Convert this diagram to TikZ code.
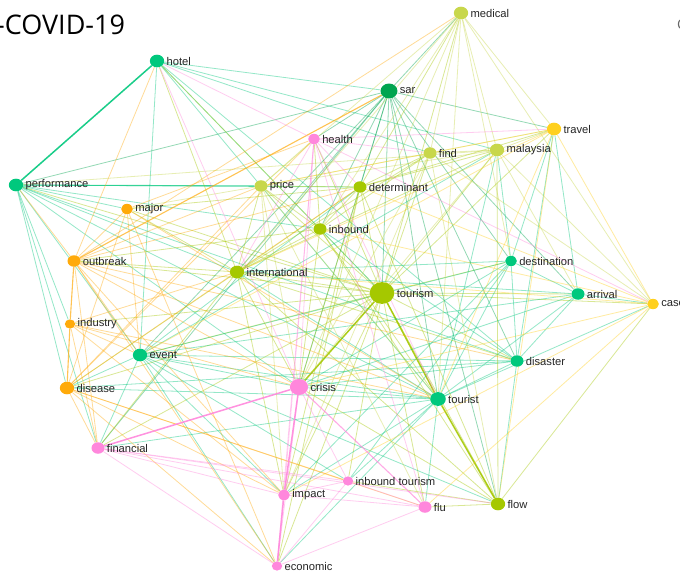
\documentclass[tikz,border=0pt]{standalone}
\usepackage{fontspec}
\usepackage{tikz}
\usetikzlibrary{shapes.geometric}
\newfontfamily\lblfont{Liberation Sans}
\newfontfamily\ttlfont{Open Sans}

\definecolor{kgreen}{RGB}{0,200,125}
\definecolor{kdark}{RGB}{0,165,80}
\definecolor{klime}{RGB}{165,200,0}
\definecolor{kpale}{RGB}{200,215,75}
\definecolor{kyellow}{RGB}{255,208,30}
\definecolor{korange}{RGB}{255,170,10}
\definecolor{kpink}{RGB}{255,135,220}

\pgfdeclarelayer{bg}
\pgfsetlayers{bg,main}

\tikzset{
	kw/.style={ellipse, inner sep=0pt, minimum height={1.15*#1}, minimum width={1.3*#1}},
	lbl/.style={font=\lblfont\fontsize{11.2}{13}\selectfont, text=black!85, inner sep=1pt, label distance=1pt},
	eg/.style={draw=#1, line width=.8pt, draw opacity=.42},
	hv/.style={line width=1.5pt, draw opacity=.9},
	md/.style={line width=1.1pt, draw opacity=.7},
}

\begin{document}
\begin{tikzpicture}[x=1pt,y=-1pt]
		\begin{pgfonlayer}{bg}
		\fill[white] (0,0) rectangle (680,572);
		\end{pgfonlayer}
		\useasboundingbox (0,0) rectangle (680,572);

		% titles
		\node[font=\ttlfont\fontsize{27}{30}\selectfont, anchor=base west, inner sep=0pt] (title) at (-4,35) {-COVID-19};
		\node[font=\ttlfont\fontsize{14}{16}\selectfont, anchor=base west, inner sep=0pt, text=black!60] (cut) at (677,30) {C};

		% keywords
		\node[kw=11, fill=kgreen,  label={[lbl]right:hotel}]           (hotel)    at (157,61)  {};
		\node[kw=13, fill=kdark,   label={[lbl]right:sar}]             (sar)      at (389,91)  {};
		\node[kw=11, fill=kpale,   label={[lbl]right:medical}]         (medical)  at (461,13)  {};
		\node[kw=11, fill=kyellow, label={[lbl]right:travel}]          (travel)   at (554,129) {};
		\node[kw=9,  fill=kpink,   label={[lbl]right:health}]          (health)   at (314,139) {};
		\node[kw=10, fill=kpale,   label={[lbl]right:find}]            (find)     at (430,153) {};
		\node[kw=11, fill=kpale,   label={[lbl]right:malaysia}]        (malaysia) at (497,150) {};
		\node[kw=11, fill=kgreen,  label={[lbl]right:performance}]     (perf)     at (16,185)  {};
		\node[kw=10, fill=kpale,   label={[lbl]right:price}]           (price)    at (261,186) {};
		\node[kw=10, fill=klime,   label={[lbl]right:determinant}]     (determ)   at (360,187) {};
		\node[kw=9,  fill=korange, label={[lbl]right:major}]           (major)    at (127,209) {};
		\node[kw=10, fill=klime,   label={[lbl]right:inbound}]         (inbound)  at (320,229) {};
		\node[kw=10, fill=korange, label={[lbl]right:outbreak}]        (outbreak) at (74,261)  {};
		\node[kw=11, fill=klime,   label={[lbl]right:international}]   (intl)     at (237,272) {};
		\node[kw=19, fill=klime,   label={[lbl]right:tourism}]         (tourism)  at (382,293) {};
		\node[kw=9,  fill=kgreen,  label={[lbl]right:destination}]     (dest)     at (511,261) {};
		\node[kw=10, fill=kgreen,  label={[lbl]right:arrival}]         (arrival)  at (578,294) {};
		\node[kw=9,  fill=kyellow, label={[lbl]right:case}]            (case)     at (653,304) {};
		\node[kw=8,  fill=korange, label={[lbl]right:industry}]        (industry) at (70,324)  {};
		\node[kw=11, fill=kgreen,  label={[lbl]right:event}]           (event)    at (140,355) {};
		\node[kw=10, fill=kgreen,  label={[lbl]right:disaster}]        (disaster) at (517,361) {};
		\node[kw=11, fill=korange, label={[lbl]right:disease}]         (disease)  at (67,388)  {};
		\node[kw=14, fill=kpink,   label={[lbl]right:crisis}]          (crisis)   at (299,387) {};
		\node[kw=12, fill=kgreen,  label={[lbl]right:tourist}]         (tourist)  at (438,399) {};
		\node[kw=10, fill=kpink,   label={[lbl]right:financial}]       (financial) at (98,448) {};
		\node[kw=9,  fill=kpink,   label={[lbl]right:impact}]          (impact)   at (284,495) {};
		\node[kw=8,  fill=kpink,   label={[lbl]right:inbound tourism}] (inbtour)  at (348,481) {};
		\node[kw=10, fill=kpink,   label={[lbl]right:flu}]             (flu)      at (425,507) {};
		\node[kw=11, fill=klime,   label={[lbl]right:flow}]            (flow)     at (498,504) {};
		\node[kw=8,  fill=kpink,   label={[lbl]right:economic}]        (economic) at (277,566) {};

		% links
		\begin{pgfonlayer}{bg}
		\path[eg=klime] (tourism)
			edge (medical) edge (travel) edge (health) edge (find) edge (malaysia)
			edge (perf) edge (price) edge (determ) edge (major) edge (inbound)
			edge (outbreak) edge (intl) edge (dest) edge (arrival) edge (case)
			edge (industry) edge (event) edge (disaster) edge (disease) edge (financial)
			edge (impact) edge (inbtour) edge (flu) edge (flow) edge (economic)
			edge[hv] (crisis) edge[hv] (tourist)
		;
		\path[eg=kgreen] (hotel)
			edge[hv] (perf) edge (sar) edge (find) edge (malaysia) edge (tourism)
			edge (event) edge (tourist) edge (disaster)
		;
		\path[eg=kdark] (sar)
			edge (tourism) edge (medical) edge (travel) edge (health) edge (determ)
			edge (inbound) edge (intl) edge (event) edge (crisis) edge (tourist)
			edge (disaster) edge (arrival) edge (dest) edge (perf) edge (financial)
			edge (flow)
		;
		\path[eg=kgreen] (perf)
			edge[md] (price) edge (major) edge (industry) edge (event) edge (determ)
			edge (crisis) edge (tourist) edge (disaster) edge (disease) edge (financial)
			edge (inbound) edge (intl)
		;
		\path[eg=kgreen] (event)
			edge (disease) edge (crisis) edge (disaster) edge (tourist) edge (flow)
			edge (dest) edge (arrival) edge (financial) edge (impact) edge (economic)
			edge (malaysia) edge (determ) edge (inbtour)
		;
		\path[eg=kgreen] (dest)
			edge (malaysia) edge (travel) edge (arrival) edge (tourist) edge (disaster)
			edge (crisis) edge (intl) edge (inbtour) edge (impact)
		;
		\path[eg=kgreen] (arrival)
			edge (tourist) edge (disaster) edge (case) edge (travel) edge (crisis)
			edge (intl)
		;
		\path[eg=kgreen] (disaster)
			edge (tourist) edge (crisis) edge (flow) edge (travel) edge (disease)
			edge (inbound)
		;
		\path[eg=kgreen] (tourist)
			edge (crisis) edge (disease) edge (economic) edge (impact) edge (inbtour)
			edge (flu) edge (malaysia) edge (intl) edge (financial) edge (case)
		;
		\path[eg=klime] (determ)
			edge (price) edge (find) edge (malaysia) edge (medical) edge (inbound)
			edge (intl) edge (major) edge (crisis) edge (flow) edge (impact)
			edge (economic) edge (travel)
		;
		\path[eg=klime] (inbound)
			edge (price) edge (health) edge (find) edge (intl) edge (crisis)
			edge (tourist) edge (flow) edge (hotel) edge (outbreak)
		;
		\path[eg=klime] (intl)
			edge (hotel) edge (price) edge (major) edge (malaysia) edge (find)
			edge (crisis) edge (disaster) edge (flow) edge (disease) edge (financial)
			edge (impact) edge (outbreak)
		;
		\path[eg=klime] (flow)
			edge[hv] (tourist) edge (case) edge (crisis) edge (inbtour) edge (flu)
			edge (malaysia)
		;
		\path[eg=kpale] (price)
			edge (find) edge (malaysia) edge (medical) edge (crisis) edge (tourist)
			edge (major) edge (health) edge (impact) edge (flu)
		;
		\path[eg=kpale] (find)
			edge (malaysia) edge (travel) edge (medical) edge (crisis) edge (impact)
			edge (flow) edge (case)
		;
		\path[eg=kpale] (malaysia)
			edge (medical) edge (travel) edge (case) edge (crisis) edge (arrival)
			edge (perf)
		;
		\path[eg=kpale] (medical)
			edge (travel) edge (inbound) edge (intl) edge (tourist) edge (dest)
			edge (crisis) edge (case)
		;
		\path[eg=kyellow] (travel)
			edge (case) edge (flow) edge (event) edge (intl) edge (price)
			edge (tourist)
		;
		\path[eg=kyellow] (case)
			edge (inbound) edge (determ) edge (intl) edge (crisis) edge (impact)
			edge (flu)
		;
		\path[eg=korange] (outbreak)
			edge[md] (sar) edge (hotel) edge (perf) edge (major) edge[md] (industry)
			edge (event) edge (crisis) edge (tourist) edge (determ) edge (price)
			edge (impact) edge (economic) edge (financial) edge (disaster) edge (medical)
		;
		\path[eg=korange] (major)
			edge (tourist) edge (disease) edge (economic) edge (health) edge (event)
		;
		\path[eg=korange] (industry)
			edge[md] (disease) edge (event) edge (crisis) edge (tourist) edge (financial)
			edge (impact) edge (intl)
		;
		\path[eg=korange] (disease)
			edge (financial) edge (economic) edge (impact) edge (inbtour) edge (flu)
			edge (determ) edge (price) edge (health)
		;
		\path[eg=kpink] (health)
			edge (travel) edge (intl) edge (determ) edge (crisis) edge (tourist)
			edge (impact) edge (economic) edge (find) edge (case) edge (flu)
			edge (hotel)
		;
		\path[eg=kpink] (crisis)
			edge[hv] (financial) edge[hv] (impact) edge (inbtour) edge[md] (flu)
			edge (economic) edge (hotel)
		;
		\path[eg=kpink] (impact)
			edge[hv] (economic) edge (financial) edge (inbtour) edge (flu)
		;
		\path[eg=kpink] (financial)
			edge (inbtour) edge (flu) edge (flow) edge (economic)
		;
		\path[eg=kpink] (inbtour)
			edge (economic) edge (flu)
		;
		\path[eg=kpink] (flu)
			edge (economic)
		;
		\end{pgfonlayer}
\end{tikzpicture}
\end{document}
